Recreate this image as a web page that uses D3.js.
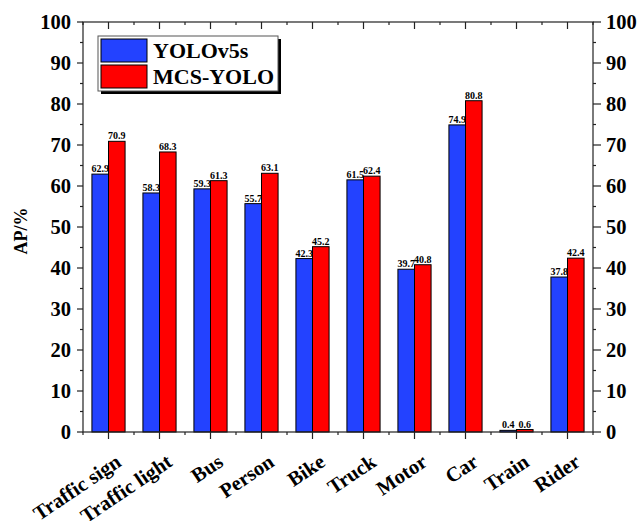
<!DOCTYPE html>
<html>
    <head>
        <title>AP per class</title>
        <script src="https://cdn.jsdelivr.net/npm/d3@7"></script>
        <style>
            body { margin: 0; background: #fff; }
            text { font-family: "Liberation Serif", "Times New Roman", serif; font-weight: bold; }
        </style>
    </head>
    <body>
        <div id="chart"></div>
        <script>
            //  data
            const categories = ["Traffic sign", "Traffic light", "Bus", "Person", "Bike", "Truck", "Motor", "Car", "Train", "Rider"];
            const yolov5s = [62.9, 58.3, 59.3, 55.7, 42.3, 61.5, 39.7, 74.9, 0.4, 37.8];
            const mcsYolo = [70.9, 68.3, 61.3, 63.1, 45.2, 62.4, 40.8, 80.8, 0.6, 42.4];
            const seriesNames = ["YOLOv5s", "MCS-YOLO"];
            const colors = ["#2342ff", "#ff0000"];
            const yTicks = [0, 10, 20, 30, 40, 50, 60, 70, 80, 90, 100];

            const width = 639, height = 521;
            const pLeft = 83, pRight = 593, pTop = 22, pBottom = 432;

            const svg = d3.select("#chart").append("svg")
                .attr("width", width)
                .attr("height", height);

            const x = d3.scaleBand().domain(categories).range([pLeft, pRight]).padding(0);
            const y = d3.scaleLinear().domain([0, 100]).range([pBottom, pTop]);
            const bw = x.bandwidth() * 0.325;

            //  bars
            const series = [yolov5s, mcsYolo];
            series.forEach((vals, si) => {
                const g = svg.append("g");
                g.selectAll("rect")
                    .data(categories)
                    .join("rect")
                        .attr("x", d => x(d) + x.bandwidth() / 2 - bw + si * bw)
                        .attr("y", (d, i) => y(vals[i]))
                        .attr("width", bw)
                        .attr("height", (d, i) => pBottom - y(vals[i]))
                        .attr("fill", colors[si])
                        .attr("stroke", "#000")
                        .attr("stroke-width", 1);
                g.selectAll("text")
                    .data(categories)
                    .join("text")
                        .attr("x", d => x(d) + x.bandwidth() / 2 - bw / 2 + si * bw)
                        .attr("y", (d, i) => y(vals[i]) - 2)
                        .attr("text-anchor", "middle")
                        .attr("font-size", 10)
                        .text((d, i) => vals[i]);
            });

            //  axes: minor ticks at band edges, major at centres
            const edges = d3.range(categories.length + 1).map(i => pLeft + i * x.bandwidth());
            const minorY = d3.range(5, 100, 10);

            const axes = svg.append("g").attr("stroke", "#222").attr("stroke-width", 1.2);
            axes.append("rect")
                .attr("x", pLeft).attr("y", pTop)
                .attr("width", pRight - pLeft).attr("height", pBottom - pTop)
                .attr("fill", "none");

            // bottom (down) and top (inward)
            categories.forEach(c => {
                const cx = x(c) + x.bandwidth() / 2;
                axes.append("line").attr("x1", cx).attr("x2", cx).attr("y1", pBottom).attr("y2", pBottom + 7);
                axes.append("line").attr("x1", cx).attr("x2", cx).attr("y1", pTop).attr("y2", pTop + 7);
            });
            edges.forEach(ex => {
                axes.append("line").attr("x1", ex).attr("x2", ex).attr("y1", pBottom).attr("y2", pBottom + 3);
                axes.append("line").attr("x1", ex).attr("x2", ex).attr("y1", pTop).attr("y2", pTop + 3);
            });

            // left and right
            yTicks.forEach(t => {
                axes.append("line").attr("x1", pLeft - 6).attr("x2", pLeft).attr("y1", y(t)).attr("y2", y(t));
                axes.append("line").attr("x1", pRight).attr("x2", pRight + 8).attr("y1", y(t)).attr("y2", y(t));
            });
            minorY.forEach(t => {
                axes.append("line").attr("x1", pLeft - 3).attr("x2", pLeft).attr("y1", y(t)).attr("y2", y(t));
                axes.append("line").attr("x1", pRight).attr("x2", pRight + 3).attr("y1", y(t)).attr("y2", y(t));
            });

            svg.append("g").selectAll("text")
                .data(yTicks)
                .join("text")
                    .attr("x", pLeft - 12)
                    .attr("y", d => y(d) + 7)
                    .attr("text-anchor", "end")
                    .attr("font-size", 20.5)
                    .text(d => d);

            svg.append("g").selectAll("text")
                .data(yTicks)
                .join("text")
                    .attr("x", pRight + 13)
                    .attr("y", d => y(d) + 7)
                    .attr("font-size", 20.5)
                    .text(d => d);

            //  rotated category labels
            svg.append("g").selectAll("text")
                .data(categories)
                .join("text")
                    .attr("transform", d => `translate(${x(d) + x.bandwidth() / 2 + 14},${pBottom + 33}) rotate(-34)`)
                    .attr("text-anchor", "end")
                    .attr("font-size", 20.5)
                    .text(d => d);

            //  y title
            svg.append("text")
                .attr("transform", `translate(27,231) rotate(-90)`)
                .attr("text-anchor", "middle")
                .attr("font-size", 18)
                .text("AP/%");

            //  legend with shadow
            const lg = svg.append("g");
            lg.append("rect").attr("x", 101).attr("y", 39).attr("width", 180).attr("height", 55).attr("fill", "#000");
            lg.append("rect").attr("x", 98).attr("y", 36).attr("width", 180).attr("height", 55)
                .attr("fill", "#fff").attr("stroke", "#555").attr("stroke-width", 1);
            seriesNames.forEach((name, i) => {
                lg.append("rect")
                    .attr("x", 101).attr("y", 39 + i * 26)
                    .attr("width", 46).attr("height", 23)
                    .attr("fill", colors[i]).attr("stroke", "#000").attr("stroke-width", 1);
                lg.append("text")
                    .attr("x", 153).attr("y", 58 + i * 25.5)
                    .attr("font-size", 22)
                    .text(name);
            });
        </script>
    </body>
</html>
